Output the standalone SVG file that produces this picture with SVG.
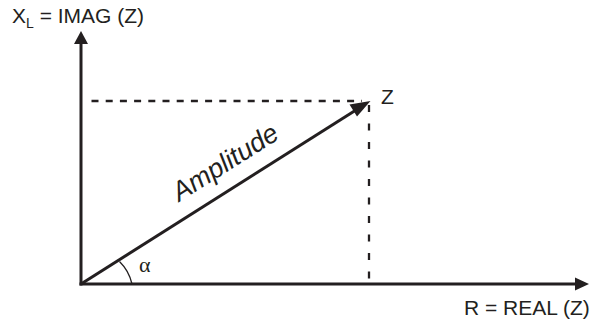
<svg xmlns="http://www.w3.org/2000/svg" width="603" height="324" viewBox="0 0 603 324">
<style>
.ax{stroke:#231f20;stroke-width:3;fill:none}
.dh{stroke:#231f20;stroke-width:2.3;fill:none;stroke-dasharray:7 7.2}
.dv{stroke:#231f20;stroke-width:2.3;fill:none;stroke-dasharray:7 11.5}
.hd{fill:#231f20}
.lb{font-family:"Liberation Sans",Arial,sans-serif;font-size:21px;fill:#231f20}
.amp{font-family:"Liberation Sans",Arial,sans-serif;font-size:27px;font-style:italic;fill:#231f20}
.sub{font-size:14px}
</style>
<rect width="603" height="324" fill="#fff"/>
<g id="connectors">
<line class="ax" x1="81" y1="285.5" x2="81" y2="42"/>
<polygon class="hd" points="81,31 74,44 88,44"/>
<line class="ax" x1="79.5" y1="284" x2="577" y2="284"/>
<polygon class="hd" points="589,284 575,277.5 575,290.5"/>
<line class="dh" x1="91.5" y1="101" x2="362" y2="101"/>
<line class="dv" x1="369" y1="105" x2="369" y2="282"/>
<line class="ax" x1="81" y1="284" x2="356" y2="110"/>
<polygon class="hd" points="370.5,101 349.5,104.5 357,116.5"/>
<path d="M119.5,261.5 A45.5,45.5 0 0 1 132,284" fill="none" stroke="#231f20" stroke-width="1.3"/>
</g>
<g id="yaxis-label">
<text class="lb" x="12" y="23">X<tspan class="sub" dy="4.5">L</tspan><tspan dy="-4.5"> = IMAG (Z)</tspan></text>
</g>
<g id="xaxis-label">
<text class="lb" x="464" y="315">R = REAL (Z)</text>
</g>
<g id="z-label">
<text class="lb" x="381" y="104">Z</text>
</g>
<g id="amplitude-label">
<text class="amp" text-anchor="middle" transform="translate(230,170) rotate(-32.3)">Amplitude</text>
</g>
<g id="alpha-label">
<text x="139" y="272" font-family="'Liberation Serif','Times New Roman',serif" font-size="22" fill="#231f20">α</text>
</g>
</svg>
